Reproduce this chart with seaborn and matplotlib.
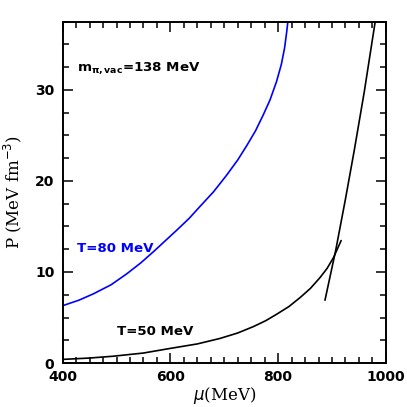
import matplotlib
matplotlib.use("Agg")
import matplotlib.pyplot as plt
import seaborn as sns
import pandas as pd
from matplotlib.ticker import MultipleLocator

# Data
mu_T80 = [400, 430, 457, 490, 519, 545, 568, 590, 612, 635, 655, 680, 704,
          725, 742, 758, 772, 785, 797, 806, 812, 816, 819]
P_T80 = [6.3, 6.9, 7.6, 8.6, 9.8, 11.0, 12.2, 13.4, 14.6, 15.9, 17.2, 18.8, 20.6,
         22.3, 23.9, 25.5, 27.2, 28.9, 30.9, 32.8, 34.6, 36.4, 38.0]

mu_T50 = [400, 450, 494, 550, 599, 650, 692, 725, 754, 777, 797, 820, 841,
          860, 878, 891, 903, 917]
P_T50 = [0.4, 0.55, 0.75, 1.1, 1.6, 2.1, 2.7, 3.3, 4.0, 4.65, 5.35, 6.2, 7.2,
         8.2, 9.4, 10.4, 11.6, 13.45]

mu_steep = [887, 907, 925, 941.5, 960, 980, 982]
P_steep = [6.9, 12.4, 18.0, 23.4, 29.8, 37.4, 38.2]

xlim = (400, 1000)
ylim = (0, 37.5)
xticks = [400, 600, 800, 1000]
yticks = [0, 10, 20, 30]

label_mpi = r"m$_{\mathbf{\pi,vac}}$=138 MeV"
label_T80 = "T=80 MeV"
label_T50 = "T=50 MeV"

sns.set_style("ticks", {"axes.edgecolor": "black", "xtick.color": "black",
                        "ytick.color": "black", "text.color": "black",
                        "axes.labelcolor": "black"})

fig = plt.figure(figsize=(4.07, 4.07), dpi=100)
ax = fig.add_axes([0.154, 0.108, 0.794, 0.839])

df80 = pd.DataFrame({"mu": mu_T80, "P": P_T80})
df50 = pd.DataFrame({"mu": mu_T50, "P": P_T50})
dfs = pd.DataFrame({"mu": mu_steep, "P": P_steep})

sns.lineplot(data=df80, x="mu", y="P", ax=ax, color="#0000ff", lw=1.2, sort=False, estimator=None)
sns.lineplot(data=df50, x="mu", y="P", ax=ax, color="black", lw=1.2, sort=False, estimator=None)
sns.lineplot(data=dfs, x="mu", y="P", ax=ax, color="black", lw=1.2, sort=False, estimator=None)

ax.set_xlim(*xlim)
ax.set_ylim(*ylim)
ax.set_xticks(xticks)
ax.set_yticks(yticks)
ax.xaxis.set_minor_locator(MultipleLocator(25))
ax.yaxis.set_minor_locator(MultipleLocator(2.5))
ax.tick_params(which="both", direction="in", top=True, right=True, width=1.1)
ax.tick_params(which="major", length=7, labelsize=10)
ax.tick_params(which="minor", length=4)
ax.tick_params(axis="y", which="major", pad=6)
ax.tick_params(axis="x", which="major", pad=5)
for lab in ax.get_xticklabels() + ax.get_yticklabels():
    lab.set_fontweight("bold")
for s in ax.spines.values():
    s.set_linewidth(1.4)

ax.set_xlabel(r"$\mu$(MeV)", fontsize=12, family="DejaVu Serif", labelpad=1)
ax.set_ylabel(r"P (MeV fm$^{-3}$)", fontsize=12, family="DejaVu Serif", labelpad=8)

ax.text(426, 32.4, label_mpi, fontsize=9.6, fontweight="bold", va="center", ha="left")
ax.text(426, 12.6, label_T80, fontsize=9.6, fontweight="bold", va="center", ha="left", color="#0000ff")
ax.text(501, 3.45, label_T50, fontsize=9.6, fontweight="bold", va="center", ha="left")

fig.savefig("out.png", dpi=100)
